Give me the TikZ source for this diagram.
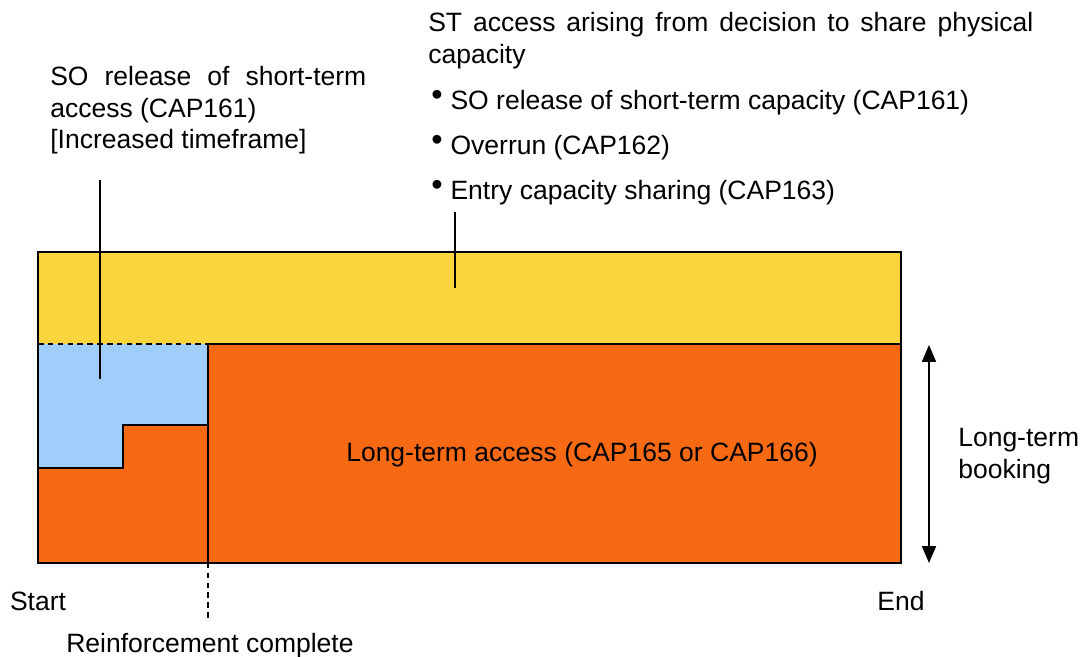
\documentclass[tikz,border=0pt]{standalone}
\usepackage{fontspec}
\setmainfont{Liberation Sans}
\usetikzlibrary{arrows.meta,positioning,calc}
\definecolor{stband}{RGB}{251,213,62}
\definecolor{ltorange}{RGB}{248,105,20}
\definecolor{relblue}{RGB}{159,205,252}
\newcommand{\bul}{\raisebox{0.16em}{\fontsize{23}{23}\selectfont\textbullet}\hspace{0.3em}}
\tikzset{
  txt/.style={
    inner sep=0pt,
    align=left,
    font=\fontsize{18.85}{22.5}\selectfont
  },
  edge/.style={draw=black, line width=1.2pt},
  leader/.style={draw=black, line width=1.2pt},
  cut/.style={draw=black, line width=1pt, dash pattern=on 4pt off 3pt},
  span/.style={{Triangle[length=12pt,width=10pt]}-{Triangle[length=12pt,width=10pt]}, line width=1pt}
}

\begin{document}
\begin{tikzpicture}[x=0.025cm, y=-0.025cm]
        \useasboundingbox (0,0) rectangle (1085,657);
        % bands
        \fill[stband] (38,252) rectangle (901,344);
        \fill[ltorange] (208,344) rectangle (901,563);
        \fill[relblue] (38,344) -- (208,344) -- (208,425) -- (123,425) -- (123,468) -- (38,468) -- cycle;
        \fill[ltorange] (38,468) -- (123,468) -- (123,425) -- (208,425) -- (208,563) -- (38,563) -- cycle;
        % outlines
        \draw[edge] (38,344) -- (38,252) -- (901,252) -- (901,563) -- (208,563) -- (208,344) -- (901,344);
        \draw[edge] (38,344) -- (38,563) -- (208,563);
        \draw[edge, line width=1pt] (38,468) -- (123,468) -- (123,425) -- (208,425);
        \draw[cut] (38,344) -- (208,344);
        \coordinate (rfcut) at (208,425);
        \coordinate (rfend) at (208,618);
        \draw[cut] (rfcut) -- (rfend);
        % labels
        \node[txt, anchor=north west] (relnote) at (50,66) {\makebox[7.9cm][s]{SO release of short-term}\\access (CAP161)\\{[Increased timeframe]}};
        \node[txt, anchor=north west] (sharenote) at (428,12) {\makebox[15.125cm][s]{ST access arising from decision to share physical}\\capacity};
        \node[txt, anchor=west] (so) at (431,103) {\bul SO release of short-term capacity (CAP161)};
        \node[txt, anchor=west] (ovr) at (431,148) {\bul Overrun (CAP162)};
        \node[txt, anchor=west] (ecs) at (431,193) {\bul Entry capacity sharing (CAP163)};
        \node[txt] (lta) at (582,455) {Long-term access (CAP165 or CAP166)};
        \node[txt] (start) at (38,601) {Start};
        \node[txt] (end) at (901,601) {End};
        \node[txt, anchor=base] (reinf) at (210,652) {Reinforcement complete};
        \node[txt, anchor=west] (booking) at (958,456) {Long-term\\booking};
        % leaders
        \coordinate (relup) at (100,180);
        \coordinate (reldown) at (100,379);
        \draw[leader] (relup) -- (reldown);
        \coordinate (shareup) at (455,212);
        \coordinate (sharedown) at (455,288);
        \draw[leader] (shareup) -- (sharedown);
        % booking arrow
        \coordinate (booktop) at (929,345);
        \coordinate (bookbot) at (929,563);
        \draw[span] (booktop) -- (bookbot);
      \end{tikzpicture}
\end{document}
